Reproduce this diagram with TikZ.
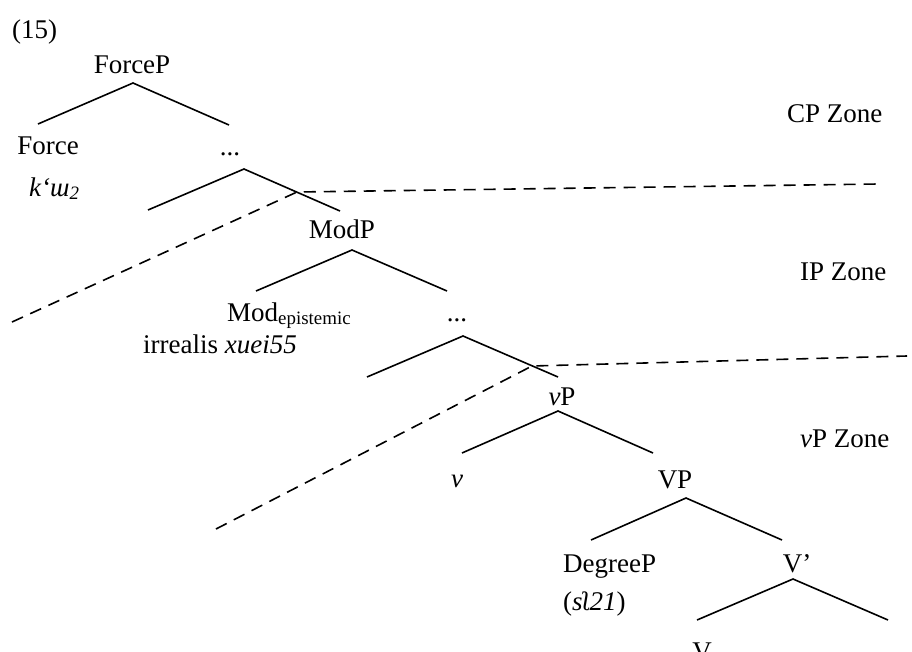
\documentclass[tikz,border=0pt]{standalone}
\usepackage{fontspec}
\setmainfont{Liberation Serif}
\begin{document}
\begin{tikzpicture}[x=1pt,y=-1pt,
  every node/.style={inner sep=0pt, anchor=base, font=\fontsize{27}{32}\selectfont},
  branch/.style={line width=1.6pt},
  zoneline/.style={line width=1.6pt, dash pattern=on 12pt off 8pt}]
\useasboundingbox (0,0) rectangle (912,651);
\clip (0,0) rectangle (912,651);

% labels of the tree
\node[anchor=base west] (ex) at (12,38) {(15)};
\node (forcep) at (132,73) {ForceP};
\node (force) at (48,154) {Force};
\node (dotsA) at (230,155) {...};
\node[anchor=base west] (forcehead) at (29,196) {\textit{k‘ɯ\textsubscript{2}}};
\node (modp) at (342,238) {ModP};
\node[anchor=base west] (modhead) at (227,321) {Mod\textsubscript{epistemic}};
\node (dotsB) at (457,321) {...};
\node[anchor=base west] (irrealis) at (143,353) {irrealis \textit{xuei55}};
\node (smallvp) at (562,405) {\textit{v}P};
\node (smallv) at (457,487) {\textit{v}};
\node (bigvp) at (675,488) {VP};
\node[anchor=base west] (degp) at (563,572) {DegreeP};
\node[anchor=base west] (degword) at (563,610) {(\textit{sʅ21})};
\node (vbar) at (797,572) {V’};
\node (bigv) at (702,660) {V};

% zone labels
\node[anchor=base west] (cpzone) at (787,122) {CP Zone};
\node[anchor=base west] (ipzone) at (800,280) {IP Zone};
\node[anchor=base west] (vpzone) at (800,447) {\textit{v}P Zone};

% branching points
\coordinate (fp-a) at (133,83);  \coordinate (fp-l) at (38,124);  \coordinate (fp-r) at (229,125);
\coordinate (da-a) at (244,169); \coordinate (da-l) at (148,210); \coordinate (da-r) at (340,211);
\coordinate (mp-a) at (352,250); \coordinate (mp-l) at (256,291); \coordinate (mp-r) at (447,291);
\coordinate (db-a) at (463,336); \coordinate (db-l) at (367,377); \coordinate (db-r) at (558,377);
\coordinate (sv-a) at (558,411); \coordinate (sv-l) at (462,453); \coordinate (sv-r) at (653,453);
\coordinate (bv-a) at (686,498); \coordinate (bv-l) at (591,540); \coordinate (bv-r) at (782,540);
\coordinate (vb-a) at (793,579); \coordinate (vb-l) at (697,620); \coordinate (vb-r) at (888,620);

\draw[branch] (fp-l) -- (fp-a) -- (fp-r);
\draw[branch] (da-l) -- (da-a) -- (da-r);
\draw[branch] (mp-l) -- (mp-a) -- (mp-r);
\draw[branch] (db-l) -- (db-a) -- (db-r);
\draw[branch] (sv-l) -- (sv-a) -- (sv-r);
\draw[branch] (bv-l) -- (bv-a) -- (bv-r);
\draw[branch] (vb-l) -- (vb-a) -- (vb-r);

% zone boundaries
\coordinate (cp-w) at (12,322);  \coordinate (cp-x) at (297,192); \coordinate (cp-e) at (878,184);
\coordinate (ip-w) at (216,529); \coordinate (ip-x) at (532,366); \coordinate (ip-e) at (907,356);
\draw[zoneline] (cp-w) -- (cp-x) -- (cp-e);
\draw[zoneline] (ip-w) -- (ip-x) -- (ip-e);
\end{tikzpicture}
\end{document}
